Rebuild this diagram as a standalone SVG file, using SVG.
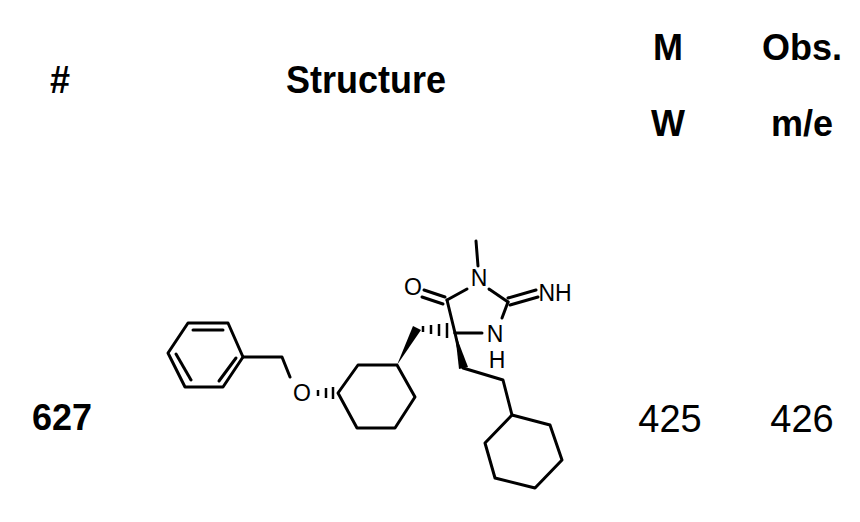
<svg xmlns="http://www.w3.org/2000/svg" width="860" height="522" viewBox="0 0 860 522">
<style>
.h{font-family:"Liberation Sans",Arial,sans-serif;font-weight:bold;font-size:36px;fill:#000;text-anchor:middle}
.n{font-family:"Liberation Sans",Arial,sans-serif;font-size:38px;fill:#000;text-anchor:middle}
.a{font-family:"Liberation Sans",Arial,sans-serif;font-size:23px;fill:#000;text-anchor:middle}
.b{fill:none;stroke:#000;stroke-width:3;stroke-linejoin:round;stroke-linecap:round}
</style>
<rect width="860" height="522" fill="#fff"/>
<g id="headers">
<text class="h" x="60" y="93" transform="translate(0,-9) scale(1,1.1)">#</text>
<text class="h" x="366" y="93" transform="translate(0,-9) scale(1,1.1)">Structure</text>
<text class="h" x="668" y="60">M</text>
<text class="h" x="668" y="136">W</text>
<text class="h" x="802" y="60">Obs.</text>
<text class="h" x="802" y="136">m/e</text>
</g>
<g id="row">
<text class="h" x="62" y="430">627</text>
<text class="n" x="670" y="432">425</text>
<text class="n" x="802" y="432">426</text>
</g>
<g id="molecule">
<g class="b">
<polygon points="188,323 228,323 243,357 223,387 185,387 168,353"/>
<line x1="193" y1="330" x2="223" y2="330"/>
<line x1="236" y1="358" x2="219" y2="381"/>
<line x1="176" y1="354" x2="191" y2="380"/>
<polyline points="243,357 282,357 290,377"/>
<polygon points="338,393 358,365 397,365 415,397 395,428 357,428"/>
<polyline points="455,333 463,368 503,380 512,415"/>
<polygon points="512,415 550,425 562,460 535,488 495,478 485,443"/>
<line x1="455" y1="333" x2="482" y2="333"/>
<line x1="455" y1="333" x2="447" y2="300"/>
<line x1="447" y1="300" x2="467" y2="289"/>
<line x1="445" y1="297" x2="424" y2="290"/>
<line x1="443" y1="304" x2="422" y2="297"/>
<line x1="478" y1="266" x2="476" y2="241"/>
<line x1="489" y1="289" x2="508" y2="302"/>
<line x1="508" y1="302" x2="502" y2="318"/>
<line x1="508" y1="298" x2="536" y2="290"/>
<line x1="510" y1="305" x2="538" y2="297"/>
</g>
<polygon points="397,365 413,326 421,330" fill="#000"/>
<polygon points="455,333 459,369 468,367" fill="#000"/>
<g stroke="#000" stroke-width="2.5">
<line x1="423" y1="326" x2="423" y2="332"/>
<line x1="431" y1="325" x2="431" y2="334"/>
<line x1="439" y1="324" x2="439" y2="336"/>
<line x1="447" y1="323" x2="447" y2="338"/>
<line x1="318" y1="390" x2="318" y2="396"/>
<line x1="326" y1="388" x2="326" y2="398"/>
<line x1="333" y1="387" x2="333" y2="399"/>
</g>
<text class="a" x="302" y="401">O</text>
<text class="a" x="413" y="295">O</text>
<text class="a" x="479" y="286">N</text>
<text class="a" x="555" y="301">NH</text>
<text class="a" x="495" y="342">N</text>
<text class="a" x="497" y="368">H</text>
</g>
</svg>
